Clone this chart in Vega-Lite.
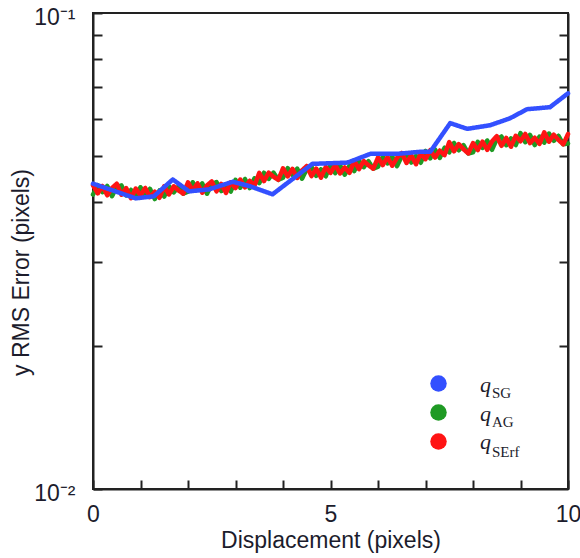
{
  "$schema": "https://vega.github.io/schema/vega-lite/v6.json",
  "autosize": "none",
  "width": 475,
  "height": 476,
  "padding": {"left": 93, "top": 13, "right": 12, "bottom": 69},
  "background": "white",
  "datasets": {
    "sg": [
      {"x": 0, "series": "SG", "v": 0.0438},
      {"x": 0.9, "series": "SG", "v": 0.0408},
      {"x": 1.28, "series": "SG", "v": 0.0412},
      {"x": 1.68, "series": "SG", "v": 0.0447},
      {"x": 2.02, "series": "SG", "v": 0.0422},
      {"x": 2.44, "series": "SG", "v": 0.0426},
      {"x": 2.94, "series": "SG", "v": 0.0442},
      {"x": 3.32, "series": "SG", "v": 0.0432},
      {"x": 3.78, "series": "SG", "v": 0.0416},
      {"x": 4.62, "series": "SG", "v": 0.0482},
      {"x": 5.36, "series": "SG", "v": 0.0485},
      {"x": 5.84, "series": "SG", "v": 0.0506},
      {"x": 6.41, "series": "SG", "v": 0.0506},
      {"x": 6.89, "series": "SG", "v": 0.0511},
      {"x": 7.1, "series": "SG", "v": 0.0511},
      {"x": 7.52, "series": "SG", "v": 0.0587},
      {"x": 7.88, "series": "SG", "v": 0.0571},
      {"x": 8.36, "series": "SG", "v": 0.0581},
      {"x": 8.78, "series": "SG", "v": 0.0601},
      {"x": 9.14, "series": "SG", "v": 0.0628},
      {"x": 9.62, "series": "SG", "v": 0.0634},
      {"x": 10, "series": "SG", "v": 0.0678}
    ],
    "rg": [
      {"x": 0.0, "AG": 0.04155, "SErf": 0.04346},
      {"x": 0.1, "AG": 0.04348, "SErf": 0.04178},
      {"x": 0.2, "AG": 0.04202, "SErf": 0.04329},
      {"x": 0.3, "AG": 0.04331, "SErf": 0.04140},
      {"x": 0.4, "AG": 0.04121, "SErf": 0.04290},
      {"x": 0.5, "AG": 0.04314, "SErf": 0.04378},
      {"x": 0.6, "AG": 0.04342, "SErf": 0.04151},
      {"x": 0.7, "AG": 0.04138, "SErf": 0.04285},
      {"x": 0.8, "AG": 0.04250, "SErf": 0.04082},
      {"x": 0.9, "AG": 0.04089, "SErf": 0.04278},
      {"x": 1.0, "AG": 0.04305, "SErf": 0.04138},
      {"x": 1.1, "AG": 0.04121, "SErf": 0.04289},
      {"x": 1.2, "AG": 0.04272, "SErf": 0.04104},
      {"x": 1.3, "AG": 0.04066, "SErf": 0.04213},
      {"x": 1.4, "AG": 0.04238, "SErf": 0.04091},
      {"x": 1.5, "AG": 0.04116, "SErf": 0.04326},
      {"x": 1.6, "AG": 0.04326, "SErf": 0.04157},
      {"x": 1.7, "AG": 0.04198, "SErf": 0.04325},
      {"x": 1.8, "AG": 0.04324, "SErf": 0.04239},
      {"x": 1.9, "AG": 0.04173, "SErf": 0.04173},
      {"x": 2.0, "AG": 0.04214, "SErf": 0.04408},
      {"x": 2.1, "AG": 0.04408, "SErf": 0.04236},
      {"x": 2.2, "AG": 0.04257, "SErf": 0.04386},
      {"x": 2.3, "AG": 0.04386, "SErf": 0.04193},
      {"x": 2.4, "AG": 0.04171, "SErf": 0.04343},
      {"x": 2.5, "AG": 0.04365, "SErf": 0.04429},
      {"x": 2.6, "AG": 0.04414, "SErf": 0.04220},
      {"x": 2.7, "AG": 0.04226, "SErf": 0.04377},
      {"x": 2.8, "AG": 0.04361, "SErf": 0.04188},
      {"x": 2.9, "AG": 0.04216, "SErf": 0.04410},
      {"x": 3.0, "AG": 0.04460, "SErf": 0.04287},
      {"x": 3.1, "AG": 0.04295, "SErf": 0.04469},
      {"x": 3.2, "AG": 0.04478, "SErf": 0.04302},
      {"x": 3.3, "AG": 0.04287, "SErf": 0.04442},
      {"x": 3.4, "AG": 0.04495, "SErf": 0.04339},
      {"x": 3.5, "AG": 0.04390, "SErf": 0.04614},
      {"x": 3.6, "AG": 0.04617, "SErf": 0.04436},
      {"x": 3.7, "AG": 0.04483, "SErf": 0.04619},
      {"x": 3.8, "AG": 0.04620, "SErf": 0.04529},
      {"x": 3.9, "AG": 0.04462, "SErf": 0.04462},
      {"x": 4.0, "AG": 0.04508, "SErf": 0.04715},
      {"x": 4.1, "AG": 0.04721, "SErf": 0.04537},
      {"x": 4.2, "AG": 0.04566, "SErf": 0.04704},
      {"x": 4.3, "AG": 0.04710, "SErf": 0.04503},
      {"x": 4.4, "AG": 0.04485, "SErf": 0.04670},
      {"x": 4.5, "AG": 0.04699, "SErf": 0.04769},
      {"x": 4.6, "AG": 0.04752, "SErf": 0.04543},
      {"x": 4.7, "AG": 0.04549, "SErf": 0.04712},
      {"x": 4.8, "AG": 0.04694, "SErf": 0.04509},
      {"x": 4.9, "AG": 0.04538, "SErf": 0.04747},
      {"x": 5.0, "AG": 0.04800, "SErf": 0.04613},
      {"x": 5.1, "AG": 0.04608, "SErf": 0.04795},
      {"x": 5.2, "AG": 0.04790, "SErf": 0.04602},
      {"x": 5.3, "AG": 0.04573, "SErf": 0.04738},
      {"x": 5.4, "AG": 0.04779, "SErf": 0.04614},
      {"x": 5.5, "AG": 0.04655, "SErf": 0.04893},
      {"x": 5.6, "AG": 0.04889, "SErf": 0.04698},
      {"x": 5.7, "AG": 0.04742, "SErf": 0.04886},
      {"x": 5.8, "AG": 0.04882, "SErf": 0.04786},
      {"x": 5.9, "AG": 0.04709, "SErf": 0.04709},
      {"x": 6.0, "AG": 0.04753, "SErf": 0.04971},
      {"x": 6.1, "AG": 0.04988, "SErf": 0.04793},
      {"x": 6.2, "AG": 0.04833, "SErf": 0.04980},
      {"x": 6.3, "AG": 0.04996, "SErf": 0.04776},
      {"x": 6.4, "AG": 0.04767, "SErf": 0.04963},
      {"x": 6.5, "AG": 0.05004, "SErf": 0.05078},
      {"x": 6.6, "AG": 0.05064, "SErf": 0.04841},
      {"x": 6.7, "AG": 0.04851, "SErf": 0.05024},
      {"x": 6.8, "AG": 0.05010, "SErf": 0.04811},
      {"x": 6.9, "AG": 0.04846, "SErf": 0.05069},
      {"x": 7.0, "AG": 0.05129, "SErf": 0.04930},
      {"x": 7.1, "AG": 0.04949, "SErf": 0.05150},
      {"x": 7.2, "AG": 0.05169, "SErf": 0.04967},
      {"x": 7.3, "AG": 0.04959, "SErf": 0.05138},
      {"x": 7.4, "AG": 0.05208, "SErf": 0.05027},
      {"x": 7.5, "AG": 0.05096, "SErf": 0.05356},
      {"x": 7.6, "AG": 0.05330, "SErf": 0.05122},
      {"x": 7.7, "AG": 0.05148, "SErf": 0.05304},
      {"x": 7.8, "AG": 0.05278, "SErf": 0.05174},
      {"x": 7.9, "AG": 0.05070, "SErf": 0.05070},
      {"x": 8.0, "AG": 0.05096, "SErf": 0.05330},
      {"x": 8.1, "AG": 0.05361, "SErf": 0.05152},
      {"x": 8.2, "AG": 0.05207, "SErf": 0.05365},
      {"x": 8.3, "AG": 0.05396, "SErf": 0.05158},
      {"x": 8.4, "AG": 0.05160, "SErf": 0.05373},
      {"x": 8.5, "AG": 0.05430, "SErf": 0.05511},
      {"x": 8.6, "AG": 0.05500, "SErf": 0.05259},
      {"x": 8.7, "AG": 0.05274, "SErf": 0.05463},
      {"x": 8.8, "AG": 0.05452, "SErf": 0.05236},
      {"x": 8.9, "AG": 0.05279, "SErf": 0.05522},
      {"x": 9.0, "AG": 0.05593, "SErf": 0.05376},
      {"x": 9.1, "AG": 0.05352, "SErf": 0.05570},
      {"x": 9.2, "AG": 0.05547, "SErf": 0.05329},
      {"x": 9.3, "AG": 0.05279, "SErf": 0.05469},
      {"x": 9.4, "AG": 0.05500, "SErf": 0.05310},
      {"x": 9.5, "AG": 0.05341, "SErf": 0.05614},
      {"x": 9.6, "AG": 0.05582, "SErf": 0.05364},
      {"x": 9.7, "AG": 0.05388, "SErf": 0.05551},
      {"x": 9.8, "AG": 0.05520, "SErf": 0.05411},
      {"x": 9.9, "AG": 0.05298, "SErf": 0.05298},
      {"x": 10.0, "AG": 0.05321, "SErf": 0.05566}
    ]
  },
  "encoding": {
    "x": {
      "field": "x",
      "type": "quantitative",
      "scale": {"domain": [0, 10], "nice": false, "zero": false},
      "axis": {
        "values": [0, 1, 2, 3, 4, 5, 6, 7, 8, 9, 10],
        "labelExpr": "datum.value % 5 == 0 ? datum.label : ''",
        "labelPadding": 23,
        "title": "Displacement (pixels)",
        "titlePadding": 3
      }
    },
    "color": {
      "field": "series",
      "type": "nominal",
      "scale": {"domain": ["SG", "AG", "SErf"], "range": ["#3350ff", "#1f9a24", "#ff1414"]},
      "legend": {
        "orient": "none",
        "legendX": 337,
        "legendY": 362,
        "title": null,
        "padding": 0,
        "symbolType": "circle",
        "symbolSize": 272,
        "symbolStrokeWidth": 0,
        "rowPadding": 12,
        "labelExpr": "''",
        "labelFontSize": 8,
        "encode": {
          "symbols": {
            "update": {
              "fill": {"scale": "color", "field": "value"},
              "stroke": {"value": "transparent"},
              "opacity": {"value": 1}
            }
          }
        }
      }
    },
    "strokeDash": {
      "field": "series",
      "type": "nominal",
      "scale": {"domain": ["SErf", "AG", "SG"], "range": [[1, 0], [1, 0], [1, 0]]},
      "legend": {
        "orient": "none",
        "legendX": 338,
        "legendY": 368,
        "title": null,
        "padding": 0,
        "values": ["SG", "AG", "SErf"],
        "symbolType": "circle",
        "symbolSize": 4,
        "symbolOpacity": 0,
        "rowPadding": 6.5,
        "labelOffset": 27,
        "labelExpr": "'q'",
        "labelBaseline": "alphabetic",
        "labelFont": "Liberation Serif",
        "labelFontStyle": "italic",
        "labelFontSize": 22,
        "labelColor": "#1c1c2c",
        "encode": {
          "symbols": {
            "update": {
              "opacity": {"value": 0},
              "fillOpacity": {"value": 0},
              "strokeOpacity": {"value": 0}
            }
          }
        }
      }
    },
    "opacity": {
      "field": "series",
      "type": "nominal",
      "scale": {"domain": ["AG", "SG", "SErf"], "range": [1, 1, 1]},
      "legend": {
        "orient": "none",
        "legendX": 338,
        "legendY": 377,
        "title": null,
        "padding": 0,
        "values": ["SG", "AG", "SErf"],
        "symbolType": "circle",
        "symbolSize": 4,
        "symbolOpacity": 0,
        "rowPadding": 13.5,
        "labelOffset": 46,
        "labelBaseline": "alphabetic",
        "labelFont": "Liberation Serif",
        "labelFontSize": 15,
        "labelColor": "#1c1c2c",
        "encode": {
          "symbols": {
            "update": {
              "opacity": {"value": 0},
              "fillOpacity": {"value": 0},
              "strokeOpacity": {"value": 0}
            }
          }
        }
      }
    }
  },
  "layer": [
    {
      "data": {"name": "rg"},
      "transform": [
        {"fold": ["AG", "SErf"], "as": ["series", "v"]},
        {"filter": "datum.series == 'AG'"}
      ],
      "mark": {"type": "line", "strokeWidth": 4.5, "strokeJoin": "round", "strokeCap": "round"},
      "encoding": {
        "y": {
          "field": "v",
          "type": "quantitative",
          "scale": {"type": "log", "domain": [0.01, 0.1], "nice": false},
          "axis": {
            "values": [0.01, 0.02, 0.03, 0.04, 0.05, 0.06, 0.07, 0.08, 0.09, 0.1],
            "labelExpr": "datum.value == 0.1 ? '10⁻¹' : (datum.value == 0.01 ? '10⁻²' : '')",
            "labelPadding": 27,
            "labelOffset": 4,
            "title": "y RMS Error (pixels)",
            "titleY": 259,
            "titlePadding": 0
          }
        }
      }
    },
    {
      "data": {"name": "rg"},
      "transform": [
        {"fold": ["AG", "SErf"], "as": ["series", "v"]},
        {"filter": "datum.series == 'SErf'"}
      ],
      "mark": {"type": "line", "strokeWidth": 4.5, "strokeJoin": "round", "strokeCap": "round"},
      "encoding": {
        "y": {"field": "v", "type": "quantitative", "axis": null}
      }
    },
    {
      "data": {"name": "sg"},
      "mark": {"type": "line", "strokeWidth": 4.5, "strokeJoin": "round", "strokeCap": "round"},
      "encoding": {
        "y": {
          "field": "v",
          "type": "quantitative",
          "axis": {
            "orient": "right",
            "values": [0.02, 0.03, 0.04, 0.05, 0.06, 0.07, 0.08, 0.09],
            "labels": false,
            "title": null
          }
        }
      }
    }
  ],
  "resolve": {"axis": {"y": "independent"}},
  "config": {
    "view": {"stroke": "#222222", "strokeWidth": 2},
    "axis": {
      "grid": false,
      "domainColor": "#222222",
      "domainWidth": 2,
      "tickColor": "#222222",
      "tickWidth": 2,
      "tickSize": -9,
      "labelFont": "Liberation Sans",
      "labelFontSize": 23,
      "labelColor": "#1c1c2c",
      "labelFlush": false,
      "labelOverlap": false,
      "titleFont": "Liberation Sans",
      "titleFontSize": 23,
      "titleFontWeight": "normal",
      "titleColor": "#1c1c2c"
    }
  }
}
